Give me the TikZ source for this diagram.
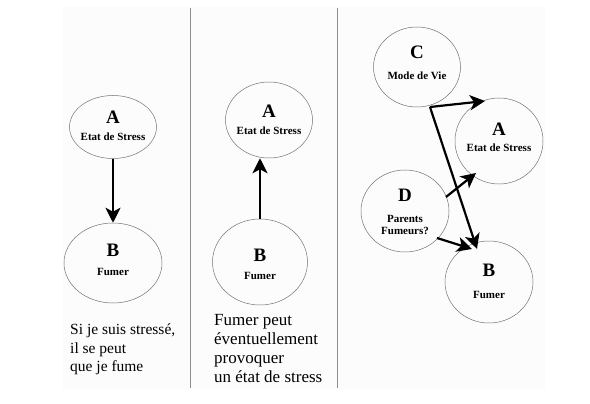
\documentclass[tikz,border=0pt]{standalone}
\usepackage{fontspec}
\setmainfont{Liberation Serif}
\usetikzlibrary{arrows.meta,shapes.geometric}
\begin{document}
\begin{tikzpicture}[x=1pt,y=-1pt,
  ell/.style={ellipse, draw=black!55, line width=0.5pt, inner sep=0pt},
  lbl/.style={font=\bfseries\fontsize{19}{19}\selectfont, inner sep=0pt},
  sub/.style={font=\bfseries\fontsize{11}{12.5}\selectfont, inner sep=0pt, align=center},
  captext/.style={align=left, anchor=north west, inner sep=0pt},
  arr/.style={line width=2.2pt, -{Stealth[length=15pt,width=15pt,inset=4pt]}},
  divider/.style={draw=black!45, line width=0.6pt}]
\useasboundingbox (0,0) rectangle (590,404);
\fill[black!1] (63,7) rectangle (545,389);
% dividers
\coordinate (d1t) at (190,8); \coordinate (d1b) at (190,388);
\coordinate (d2t) at (337,8); \coordinate (d2b) at (337,388);
\draw[divider] (d1t) -- (d1b);
\draw[divider] (d2t) -- (d2b);
% panel 1
\node[ell, minimum width=87pt, minimum height=63pt] (A1) at (113,127) {};
\node[lbl] (A1l) at (113,117) {A};
\node[sub] (A1s) at (113,137) {Etat de Stress};
\node[ell, minimum width=98pt, minimum height=80pt] (B1) at (113,263) {};
\node[lbl] (B1l) at (113,250) {B};
\node[sub] (B1s) at (113,272) {Fumer};
\draw[arr] (A1) -- (B1);
\node[captext, font=\fontsize{15.5}{18.5}\selectfont] (t1) at (70,324) {Si je suis stressé,\\il se peut\\que je fume};
% panel 2
\node[ell, minimum width=87pt, minimum height=76pt] (A2) at (269,120) {};
\node[lbl] (A2l) at (269,111) {A};
\node[sub] (A2s) at (269,131) {Etat de Stress};
\node[ell, minimum width=95pt, minimum height=86pt] (B2) at (260,262) {};
\node[lbl] (B2l) at (260,255) {B};
\node[sub] (B2s) at (260,276) {Fumer};
\draw[arr] (B2.north) -- (B2.north |- A2.south);
\node[captext, font=\fontsize{17}{19}\selectfont] (t2) at (214,314) {Fumer peut\\éventuellement\\provoquer\\un état de stress};
% panel 3
\node[ell, minimum width=87pt, minimum height=80pt] (C) at (417,67) {};
\node[lbl] (Cl) at (417,52) {C};
\node[sub] (Cs) at (417,76) {Mode de Vie};
\node[ell, minimum width=88pt, minimum height=86pt] (A3) at (499,141) {};
\node[lbl] (A3l) at (499,129) {A};
\node[sub] (A3s) at (499,148) {Etat de Stress};
\node[ell, minimum width=88pt, minimum height=82pt] (D) at (405,211) {};
\node[lbl] (Dl) at (405,195) {D};
\node[sub] (Ds) at (405,225) {Parents\\Fumeurs?};
\node[ell, minimum width=88pt, minimum height=82pt] (B3) at (489,282) {};
\node[lbl] (B3l) at (489,270) {B};
\node[sub] (B3s) at (489,295) {Fumer};
\coordinate (Cc) at (430,107);
\coordinate (A3in) at (485,101);
\coordinate (B3in) at (477,249);
\coordinate (Dout1) at (446,197);
\coordinate (A3in2) at (476,173);
\coordinate (Dout2) at (437,238);
\coordinate (B3in2) at (472,249);
\draw[arr] (Cc) -- (A3in);
\draw[arr] (Cc) -- (B3in);
\draw[arr] (Dout1) -- (A3in2);
\draw[arr] (Dout2) -- (B3in2);
\end{tikzpicture}
\end{document}
